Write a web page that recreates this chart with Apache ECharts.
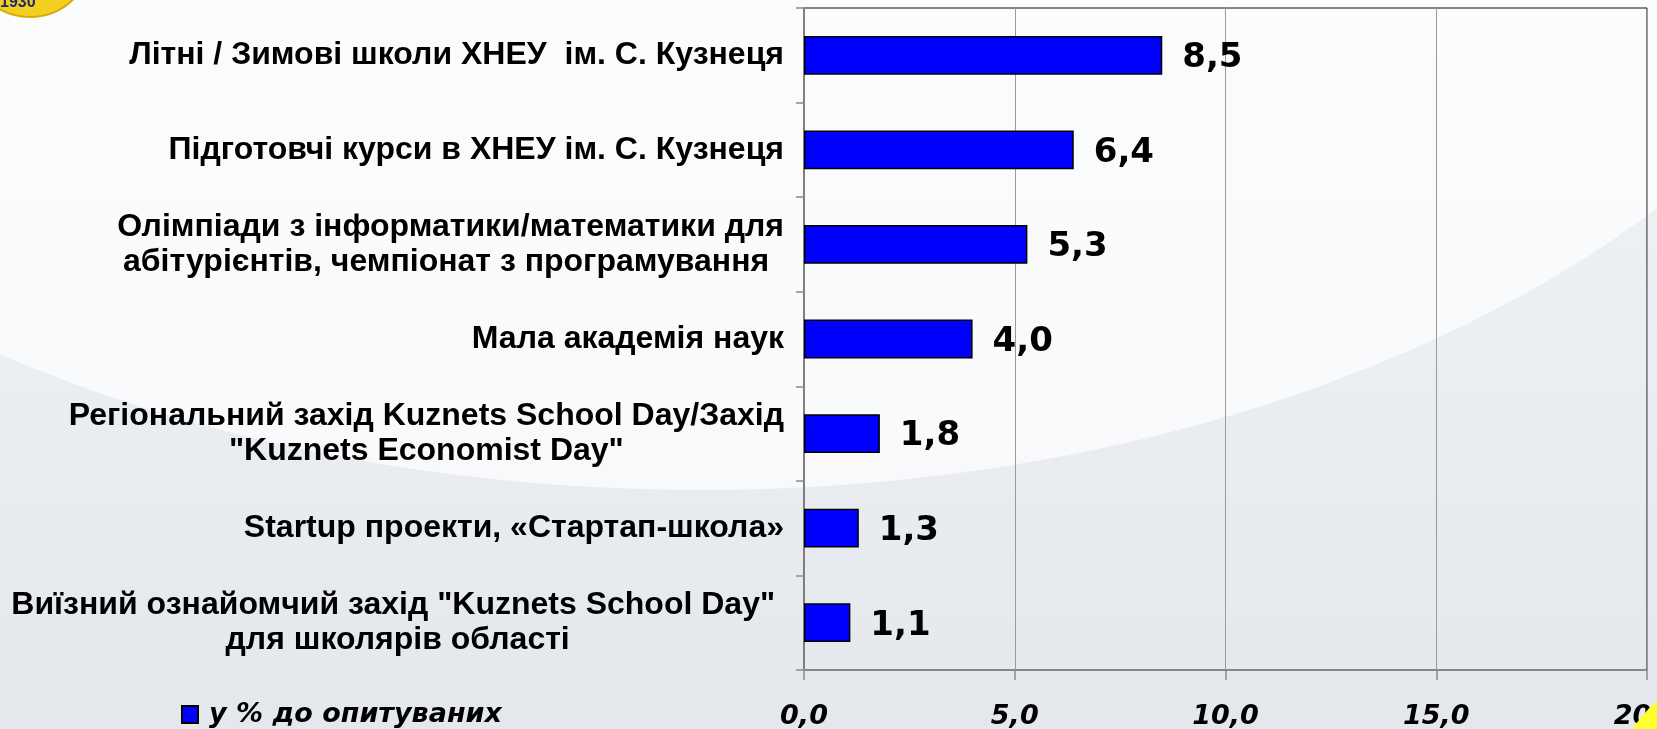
<!DOCTYPE html>
<html>
<head>
<meta charset="utf-8">
<script src="https://cdn.jsdelivr.net/npm/echarts@6/dist/echarts.min.js"></script>
<style>
  html, body { margin: 0; padding: 0; }
  #chart { width: 1657px; height: 729px; }
</style>
</head>
<body>
<div id="chart"></div>
<script>
  // категорії (зверху вниз)
  var categories = [
    'Літні / Зимові школи ХНЕУ  ім. С. Кузнеця',
    'Підготовчі курси в ХНЕУ ім. С. Кузнеця',
    'Олімпіади з інформатики/математики для\nабітурієнтів, чемпіонат з програмування ',
    'Мала академія наук',
    'Регіональний захід Kuznets School Day/Захід\n"Kuznets Economist Day"',
    'Startup проекти, «Стартап-школа»',
    'Виїзний ознайомчий захід "Kuznets School Day" \nдля школярів області'
  ];
  var values = [8.5, 6.4, 5.3, 4.0, 1.8, 1.3, 1.1];
  var seriesName = 'у % до опитуваних';
  var xTicks = { min: 0, max: 20, step: 5 };

  function comma(v) {
    return Number(v).toFixed(1).replace('.', ',');
  }

  var chart = echarts.init(document.getElementById('chart'));
  chart.setOption({
    backgroundColor: {
      type: 'linear', x: 0, y: 0, x2: 0, y2: 1,
      colorStops: [
        { offset: 0, color: '#f1f3f6' },
        { offset: 1, color: '#e4e8ed' }
      ]
    },
    graphic: [
      {
        type: 'ellipse', z: -1, silent: true,
        shape: { cx: 700, cy: -300, rx: 1250, ry: 790 },
        style: { fill: 'rgba(255,255,255,0.7)' }
      },
      {
        type: 'circle', z: 10, silent: true,
        shape: { cx: 30, cy: -45, r: 62 },
        style: { fill: '#f4cf1f', stroke: '#d8a90c', lineWidth: 2 }
      },
      {
        type: 'text', z: 11, silent: true, left: 0, top: -5,
        style: { text: '1930', fill: '#1c2a6b', font: 'bold 16px "Liberation Sans", Arial' }
      },
      {
        type: 'circle', z: 10, silent: true,
        shape: { cx: 1730, cy: 790, r: 115 },
        style: { fill: '#ffff2e' }
      }
    ],
    grid: {
      left: 804, right: 10, top: 8, bottom: 59,
      outerBoundsMode: 'none',
      containLabel: false,
      show: true, borderColor: '#111', borderWidth: 1
    },
    legend: {
      left: 181, top: 701, padding: 0,
      itemWidth: 16, itemHeight: 17, itemGap: 10,
      icon: 'rect',
      textStyle: {
        fontFamily: '"DejaVu Sans"', fontWeight: 'bold', fontStyle: 'italic',
        fontSize: 27, color: '#000', padding: [0, 0, 0, 6]
      },
      data: [seriesName]
    },
    xAxis: {
      type: 'value',
      min: xTicks.min, max: xTicks.max, interval: xTicks.step,
      axisLine: { show: true, lineStyle: { color: '#8a8a8a', width: 1.5 } },
      axisTick: { show: true, length: 10, lineStyle: { color: '#8a8a8a', width: 1.5 } },
      splitLine: { show: true, lineStyle: { color: '#9a9a9a', width: 1 } },
      axisLabel: {
        margin: 33,
        formatter: comma,
        fontFamily: '"DejaVu Sans"', fontWeight: 'bold', fontStyle: 'italic',
        fontSize: 27, color: '#000'
      }
    },
    yAxis: {
      type: 'category',
      inverse: true,
      data: categories,
      axisLine: { show: true, lineStyle: { color: '#7a7a7a', width: 1.5 } },
      axisTick: { show: true, length: 8, lineStyle: { color: '#8a8a8a', width: 1.5 } },
      axisLabel: {
        margin: 20,
        align: 'right',
        lineHeight: 35,
        fontFamily: '"Liberation Sans", Arial',
        fontWeight: 'bold',
        fontSize: 32,
        color: '#000',
        formatter: function (v) {
          return v.split('\n').map(function (s) { return '{c|' + s + '}'; }).join('\n');
        },
        rich: {
          c: {
            align: 'center', lineHeight: 35,
            fontFamily: '"Liberation Sans", Arial', fontWeight: 'bold', fontSize: 32, color: '#000'
          }
        }
      }
    },
    series: [{
      name: seriesName,
      type: 'bar',
      data: values,
      barWidth: '41%',
      itemStyle: { color: '#0000ff', borderColor: '#000', borderWidth: 1.5 },
      label: {
        show: true,
        position: 'right',
        distance: 20,
        offset: [0, 3],
        formatter: function (p) { return comma(p.value); },
        fontFamily: '"DejaVu Sans"', fontWeight: 'bold', fontSize: 34, color: '#000'
      }
    }]
  });
</script>
</body>
</html>
